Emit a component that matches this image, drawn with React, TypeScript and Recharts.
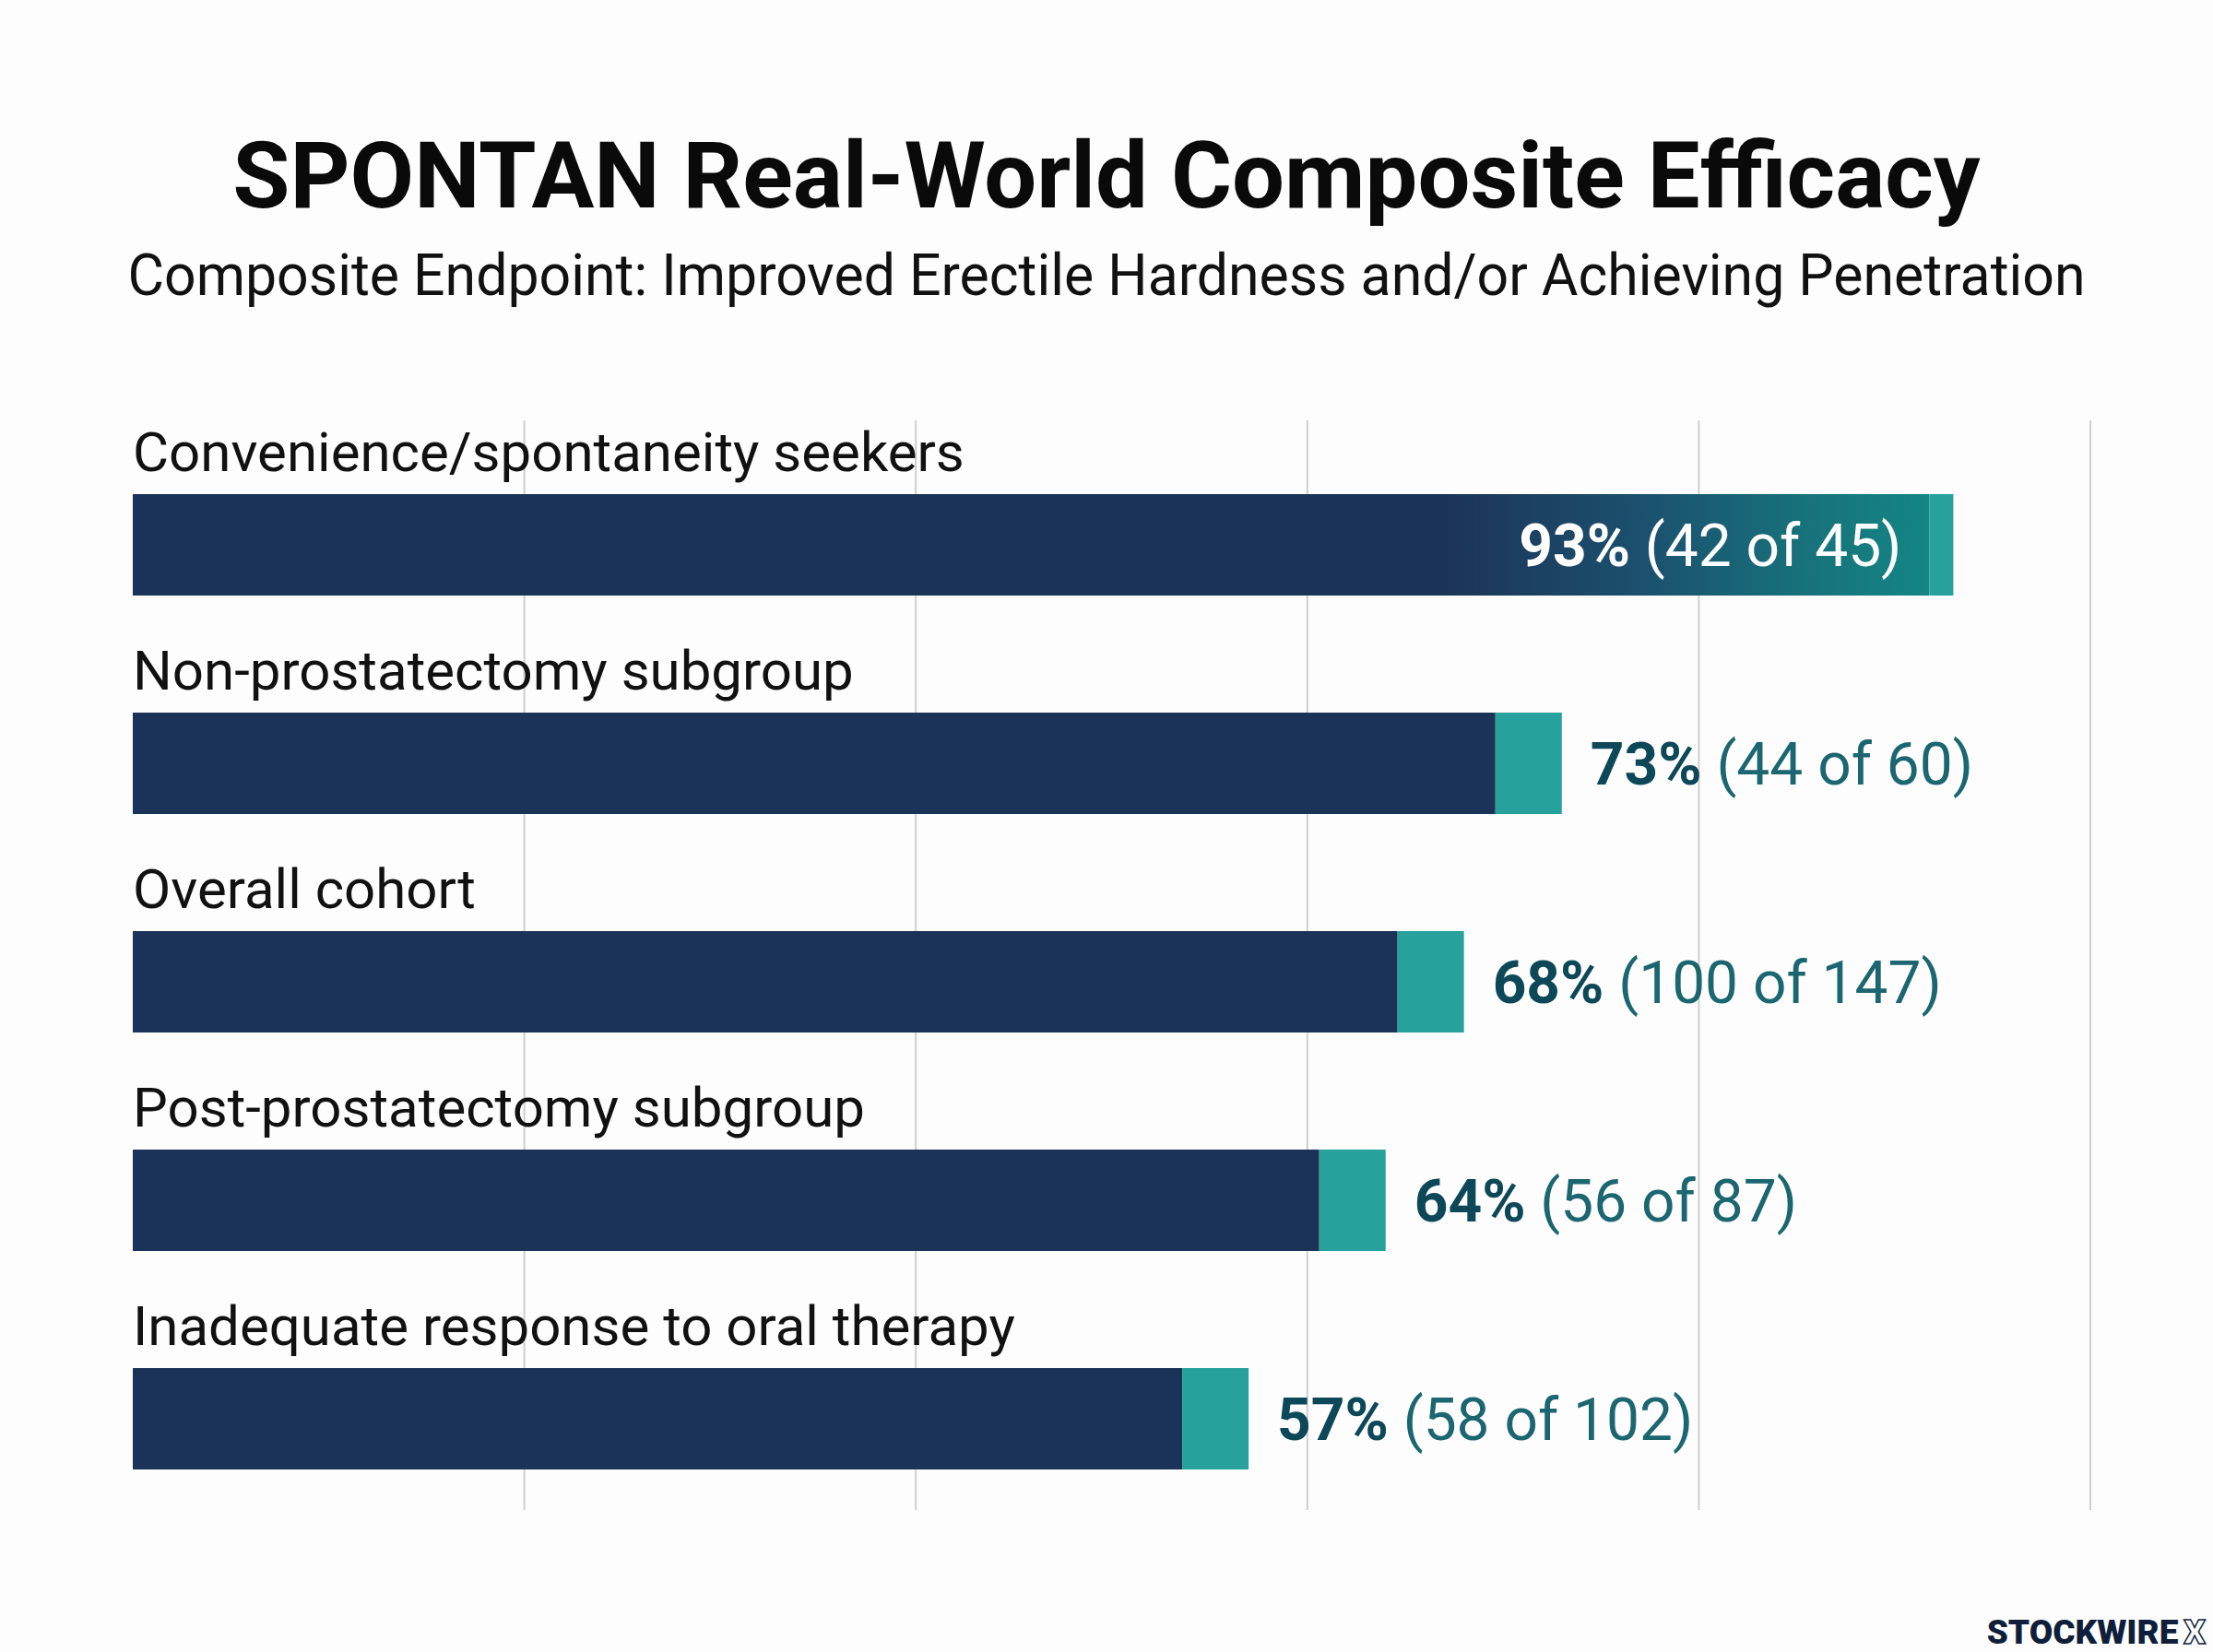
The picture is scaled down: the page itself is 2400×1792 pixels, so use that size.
import { BarChart, Bar, XAxis, YAxis, CartesianGrid } from 'recharts';

// ── Data ──────────────────────────────────────────

const categories = [
  'Convenience/spontaneity seekers',
  'Non-prostatectomy subgroup',
  'Overall cohort',
  'Post-prostatectomy subgroup',
  'Inadequate response to oral therapy',
];
const percents = [93, 73, 68, 64, 57];
const responders = [42, 44, 100, 56, 58];
const totals = [45, 60, 147, 87, 102];
const gridTicks = [20, 40, 60, 80, 100];

const data = categories.map((name, i) => ({
  name,
  pct: percents[i],
  n: responders[i],
  total: totals[i],
}));

// ── Style ──────────────────────────────────────────

const W = 2400;
const H = 1792;
const FONT = 'Roboto, "Liberation Sans", Arial, sans-serif';
const NAVY = '#1c3359';
const TEAL = '#27a19b';
const LABEL_BOLD = '#0d4859';
const LABEL_REG = '#1b6670';
const INSIDE_MIN = 85; // long bars carry their label inside

// ── Bar shape (bar + teal cap + labels) ────────────

function CappedBar(props: any) {
  const { x, y, width, height, payload } = props;
  const inside = payload.pct >= INSIDE_MIN;
  const cap = inside ? 26 : 72;
  const gid = `lead-${props.index}`;
  const cy = y + height / 2 + 23;
  return (
    <g>
      {inside && (
        <defs>
          <linearGradient id={gid} gradientUnits="userSpaceOnUse" x1={x} y1={0} x2={x + width} y2={0}>
            <stop offset="0" stopColor={NAVY} />
            <stop offset="0.72" stopColor={NAVY} />
            <stop offset="0.84" stopColor="#1b5470" />
            <stop offset="0.92" stopColor="#17727b" />
            <stop offset="1" stopColor="#138a86" />
          </linearGradient>
        </defs>
      )}
      <rect x={x} y={y} width={width - cap} height={height} fill={inside ? `url(#${gid})` : NAVY} />
      <rect x={x + width - cap} y={y} width={cap} height={height} fill={TEAL} />
      <text x={x} y={y - 25} fontFamily={FONT} fontSize={60} fill="#111">
        {payload.name}
      </text>
      <text
        x={inside ? x + width - 56 : x + width + 31}
        y={cy}
        textAnchor={inside ? 'end' : 'start'}
        fontFamily={FONT}
        fontSize={64}
      >
        <tspan fontWeight={700} fill={inside ? '#ffffff' : LABEL_BOLD}>{`${payload.pct}%`}</tspan>
        <tspan fill={inside ? '#ffffff' : LABEL_REG}>{` (${payload.n} of ${payload.total})`}</tspan>
      </text>
    </g>
  );
}

// ── Component ──────────────────────────────────────

export default function App() {
  return (
    <div style={{ position: 'absolute', left: 0, top: 0, width: W, height: H, background: '#fdfdfd' }}>
      <BarChart
        width={W}
        height={H}
        data={data}
        layout="vertical"
        margin={{ top: 472, right: 133, bottom: 135, left: 144 }}
      >
        <CartesianGrid
          horizontal={false}
          verticalValues={gridTicks}
          stroke="#cfcfcf"
          strokeWidth={2}
          y={456}
          height={1182}
        />
        <XAxis type="number" domain={[0, 100]} ticks={gridTicks} hide />
        <YAxis type="category" dataKey="name" hide />
        <Bar dataKey="pct" barSize={110} shape={<CappedBar />} isAnimationActive={false} />
      </BarChart>
      <svg
        width={W}
        height={H}
        style={{ position: 'absolute', left: 0, top: 0, pointerEvents: 'none' }}
      >
        <text x={1200} y={225} textAnchor="middle" fontFamily={FONT} fontWeight={700} fontSize={101} fill="#0a0a0a">
          SPONTAN Real-World Composite Efficacy
        </text>
        <text
          x={1200}
          y={320}
          textAnchor="middle"
          fontFamily={FONT}
          fontSize={63}
          fill="#111"
          textLength={2123}
          lengthAdjust="spacingAndGlyphs"
        >
          Composite Endpoint: Improved Erectile Hardness and/or Achieving Penetration
        </text>
        <text x={2392} y={1783} textAnchor="end" fontFamily={FONT} fontWeight={900} fontSize={37} fill="#0f1e3a">
          STOCKWIRE
          <tspan dx={6} fill="#ffffff" stroke="#0f1e3a" strokeWidth={1.5}>X</tspan>
        </text>
      </svg>
    </div>
  );
}
